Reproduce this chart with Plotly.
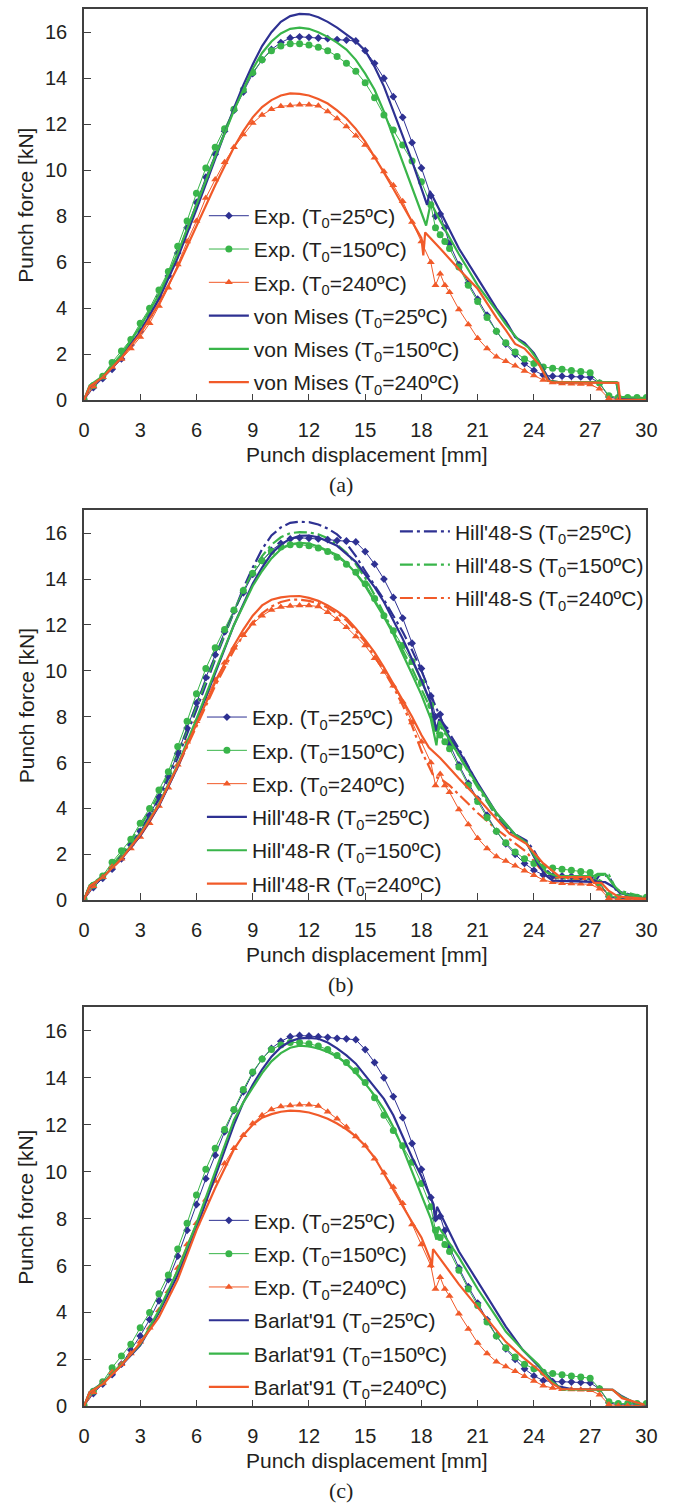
import plotly.graph_objects as go

# ---------------- data ----------------
X_TICKS = [0, 3, 6, 9, 12, 15, 18, 21, 24, 27, 30]
Y_TICKS = [0, 2, 4, 6, 8, 10, 12, 14, 16]

EXP_X = [0, 0.5, 1, 1.5, 2, 2.5, 3, 3.5, 4, 4.5, 5, 5.5, 6, 6.5, 7, 7.5, 8, 8.5, 9, 9.5,
         10, 10.5, 11, 11.5, 12, 12.5, 13, 13.5, 14, 14.5, 15, 15.5, 16, 16.5, 17, 17.5,
         18, 18.5, 18.75, 19, 19.25, 19.5, 20, 20.5, 21, 21.5, 22, 22.5, 23, 23.5, 24,
         24.5, 25, 25.5, 26, 26.5, 27, 27.5, 28, 28.5, 29, 29.5, 30]
EXP_25 = [0.0, 0.55, 0.95, 1.35, 1.8, 2.4, 3.0, 3.7, 4.5, 5.4, 6.4, 7.5, 8.6, 9.7, 10.7, 11.7,
          12.6, 13.4, 14.2, 14.8, 15.25, 15.55, 15.75, 15.8, 15.78, 15.75, 15.72, 15.68, 15.66,
          15.62, 15.2, 14.65, 14.0, 13.2, 12.3, 11.2, 10.1, 8.9, 8.0, 8.1, 7.5, 6.8, 5.9, 5.1,
          4.4, 3.7, 3.0, 2.45, 2.0, 1.6, 1.3, 1.1, 1.05, 1.05, 1.04, 1.02, 1.0, 0.75, 0.15,
          0.07, 0.06, 0.06, 0.06]
EXP_150 = [0.05, 0.65, 1.05, 1.65, 2.15, 2.65, 3.35, 4.0, 4.8, 5.6, 6.7, 7.8, 9.0, 10.1, 11.0,
           11.8, 12.65, 13.5, 14.25, 14.8, 15.2, 15.4, 15.5, 15.5, 15.45, 15.35, 15.2, 14.95,
           14.65, 14.3, 13.8, 13.15, 12.4, 11.75, 11.1, 10.4, 9.5, 8.5, 7.5, 7.2, 6.9, 6.6, 5.8,
           5.0, 4.3, 3.6, 3.0, 2.5, 2.1, 1.8, 1.6, 1.45, 1.4, 1.35, 1.3, 1.25, 1.2, 0.75, 0.2,
           0.12, 0.12, 0.12, 0.12]
EXP_240 = [0.0, 0.6, 1.0, 1.45, 1.8, 2.25, 2.75, 3.35, 4.1, 4.9, 5.9, 6.9, 7.8, 8.8, 9.6, 10.35,
           11.0, 11.55, 12.05, 12.4, 12.65, 12.78, 12.82, 12.85, 12.85, 12.8, 12.55, 12.25, 11.9,
           11.5, 11.1, 10.55, 9.95, 9.35, 8.65, 7.75, 6.9, 6.0, 5.0, 5.5, 5.0, 4.7, 3.95, 3.3,
           2.7, 2.25, 1.9, 1.7, 1.5, 1.28, 1.08, 0.88, 0.78, 0.73, 0.72, 0.71, 0.69, 0.5, 0.08,
           0.03, 0.03, 0.03, 0.03]

# (a) von Mises
VM25_X = [0, 0.3, 1, 2, 3, 4, 5, 6, 7, 8, 8.5, 9, 9.5, 10, 10.5, 11, 11.5, 12, 12.5, 13, 13.5,
          14, 14.5, 15, 15.5, 16, 16.5, 17, 17.5, 18, 18.3, 18.45, 19, 20, 21, 22, 22.5, 23,
          23.5, 24, 24.5, 24.85, 25.3, 28.4, 28.55, 30]
VM25_Y = [0, 0.6, 1.0, 1.9, 3.0, 4.4, 6.2, 8.3, 10.5, 12.7, 13.7, 14.6, 15.4, 16.0, 16.45, 16.7,
          16.8, 16.78, 16.65, 16.45, 16.2, 15.9, 15.6, 15.2, 14.5, 13.65, 12.6, 11.5, 10.4, 9.2,
          8.5, 9.1, 8.2, 6.6, 5.3, 4.0, 3.45, 2.75, 2.5, 2.05, 1.35, 0.85, 0.79, 0.79, 0.12, 0.05]
VM150_X = [0, 0.3, 1, 2, 3, 4, 5, 6, 7, 8, 8.5, 9, 9.5, 10, 10.5, 11, 11.5, 12, 12.5, 13, 13.5,
           14, 14.5, 15, 15.5, 16, 16.5, 17, 17.5, 18, 18.25, 18.5, 19, 20, 21, 22, 22.5, 23.2,
           23.7, 24.25, 24.75, 25.3, 28.4, 28.55, 30]
VM150_Y = [0, 0.65, 1.05, 2.0, 3.2, 4.6, 6.4, 8.5, 10.6, 12.6, 13.5, 14.4, 15.1, 15.6, 15.95,
           16.15, 16.2, 16.15, 16.0, 15.8, 15.55, 15.25, 14.8, 14.2, 13.5, 12.55, 11.45, 10.35,
           9.25, 8.15, 7.6, 8.6, 7.8, 6.35, 5.0, 3.9, 3.3, 2.6, 2.3, 1.7, 0.85, 0.79, 0.79, 0.15, 0.1]
VM240_X = [0, 0.3, 1, 2, 3, 4, 5, 6, 7, 8, 8.5, 9, 9.5, 10, 10.5, 11, 11.5, 12, 12.5, 13, 13.5,
           14, 14.5, 15, 15.5, 16, 16.5, 17, 17.5, 18, 18.1, 18.2, 19, 20, 21, 22, 22.5, 23, 23.5,
           24.25, 24.75, 25, 28.5, 28.6, 30]
VM240_Y = [0, 0.6, 1.0, 1.85, 2.9, 4.2, 5.8, 7.6, 9.35, 11.0, 11.7, 12.3, 12.75, 13.05, 13.25,
           13.34, 13.32, 13.25, 13.1, 12.9, 12.6, 12.25, 11.8, 11.25, 10.6, 9.9, 9.2, 8.5, 7.8,
           7.05, 6.3, 7.3, 6.6, 5.7, 4.85, 3.6, 3.05, 2.45, 2.25, 1.58, 0.86, 0.78, 0.76, 0.02, 0.02]

# (b) Hill'48-S
HS25_X = [0, 0.3, 1, 2, 3, 4, 5, 6, 7, 8, 8.5, 9, 9.5, 10, 10.5, 11, 11.5, 12, 12.5, 13, 13.5,
          14, 14.5, 15, 15.5, 16, 16.5, 17, 17.5, 18, 18.4, 18.65, 19.1, 20, 20.9, 21.8, 22.7,
          23.6, 24, 24.5, 24.9, 25.3, 27.3, 27.5, 28.0, 28.4, 30]
HS25_Y = [0, 0.6, 1.0, 1.9, 3.0, 4.4, 6.2, 8.3, 10.5, 12.6, 13.6, 14.5, 15.3, 15.9, 16.25, 16.45,
          16.5, 16.48, 16.38, 16.2, 15.95, 15.55, 15.0, 14.35, 13.75, 13.1, 12.4, 11.7, 10.9,
          10.0, 9.2, 8.65, 7.8, 6.6, 5.2, 3.9, 3.0, 2.6, 2.16, 1.44, 1.15, 0.85, 0.85, 1.1, 1.05,
          0.4, 0.05]
HS150_X = [0, 0.3, 1, 2, 3, 4, 5, 6, 7, 8, 8.5, 9, 9.5, 10, 10.5, 11, 11.5, 12, 12.5, 13, 13.5,
           14, 14.5, 15, 15.5, 16, 16.5, 17, 17.5, 18, 18.4, 18.8, 19, 20, 21, 22, 23, 23.6,
           24.2, 24.8, 25.3, 27.2, 27.4, 28.0, 28.4, 30]
HS150_Y = [0, 0.65, 1.05, 2.0, 3.2, 4.6, 6.4, 8.5, 10.6, 12.6, 13.5, 14.35, 15.0, 15.5, 15.82,
           16.0, 16.05, 16.03, 15.95, 15.78, 15.5, 15.15, 14.65, 14.05, 13.3, 12.5, 11.7, 10.9,
           10.1, 9.2, 8.5, 7.2, 7.6, 6.3, 4.9, 3.7, 2.85, 2.5, 1.65, 1.15, 0.95, 0.9, 1.1, 1.1,
           0.45, 0.1]
HS240_X = [0, 0.3, 1, 2, 3, 4, 5, 6, 7, 8, 8.5, 9, 9.5, 10, 10.5, 11, 11.5, 12, 12.5, 13, 13.5,
           14, 14.5, 15, 15.5, 16, 16.5, 17, 17.5, 18, 18.3, 18.65, 19, 19.5, 20, 21, 22, 23,
           23.6, 24.3, 25, 27.0, 27.5, 28, 28.5, 30]
HS240_Y = [0, 0.6, 1.0, 1.8, 2.85, 4.15, 5.8, 7.6, 9.35, 10.9, 11.55, 12.1, 12.5, 12.8, 13.0,
           13.1, 13.1, 13.05, 12.95, 12.75, 12.5, 12.2, 11.75, 11.25, 10.65, 10.0, 9.3, 8.5, 7.6,
           6.5, 6.0, 5.4, 5.3, 5.0, 4.6, 3.8, 3.1, 2.5, 2.1, 1.4, 1.0, 0.9, 0.55, 0.3, 0.15, 0.05]

# (b) Hill'48-R
HR25_X = [0, 0.3, 1, 2, 3, 4, 5, 6, 7, 8, 8.5, 9, 9.5, 10, 10.5, 11, 11.5, 12, 12.5, 13, 13.5,
          14, 14.5, 15, 15.5, 16, 16.5, 17, 17.5, 18, 18.5, 18.8, 18.95, 19.5, 20, 21, 22, 23,
          23.6, 24.2, 24.6, 25, 27.5, 27.8, 28.3, 28.6, 30]
HR25_Y = [0, 0.6, 1.0, 1.8, 2.8, 4.1, 5.8, 7.8, 9.9, 12.0, 12.9, 13.8, 14.5, 15.1, 15.5, 15.75,
          15.88, 15.9, 15.82, 15.65, 15.45, 15.1, 14.75, 14.2, 13.65, 13.0, 12.2, 11.4, 10.5,
          9.6, 8.6, 7.4, 7.9, 7.1, 6.5, 5.1, 3.8, 2.85, 2.5, 1.6, 1.1, 0.85, 0.78, 0.78, 0.55,
          0.3, 0.05]
HR150_X = [0, 0.3, 1, 2, 3, 4, 5, 6, 7, 8, 8.5, 9, 9.5, 10, 10.5, 11, 11.5, 12, 12.5, 13, 13.5,
           14, 14.5, 15, 15.5, 16, 16.5, 17, 17.5, 18, 18.5, 18.8, 18.95, 19.5, 20, 21, 22, 23,
           23.6, 24.2, 24.7, 25.2, 27.2, 27.4, 27.8, 28.3, 28.7, 30]
HR150_Y = [0, 0.65, 1.0, 1.85, 2.9, 4.2, 5.9, 7.9, 10.0, 12.0, 12.85, 13.7, 14.35, 14.9, 15.3,
           15.52, 15.58, 15.55, 15.42, 15.25, 15.05, 14.7, 14.25, 13.7, 13.05, 12.35, 11.6,
           10.75, 9.85, 8.95, 7.9, 6.75, 7.8, 7.0, 6.3, 5.0, 3.8, 2.85, 2.5, 1.7, 1.2, 1.05,
           1.05, 1.15, 1.15, 0.6, 0.3, 0.05]
HR240_X = [0, 0.3, 1, 2, 3, 4, 5, 6, 7, 8, 8.5, 9, 9.5, 10, 10.5, 11, 11.5, 12, 12.5, 13, 13.5,
           14, 14.5, 15, 15.5, 16, 16.5, 17, 17.5, 18, 18.4, 19, 20, 21, 22, 22.7, 23.6, 24.5,
           25.4, 27.0, 27.2, 27.6, 28.0, 28.5, 30]
HR240_Y = [0, 0.6, 1.0, 1.8, 2.85, 4.15, 5.85, 7.7, 9.5, 11.1, 11.8, 12.4, 12.85, 13.1, 13.2,
           13.25, 13.26, 13.18, 13.05, 12.85, 12.6, 12.3, 11.85, 11.35, 10.8, 10.15, 9.45, 8.75,
           8.0, 7.2, 6.65, 6.2, 5.3, 4.45, 3.55, 2.9, 2.45, 1.6, 1.0, 1.0, 0.75, 0.75, 0.4,
           0.15, 0.05]

# (c) Barlat'91
B25_X = [0, 0.3, 1, 2, 3, 4, 5, 6, 7, 8, 8.5, 9, 9.5, 10, 10.5, 11, 11.5, 12, 12.5, 13, 13.5,
         14, 14.5, 15, 15.5, 16, 16.5, 17, 17.5, 18, 18.5, 18.65, 18.72, 18.83, 20, 21, 22,
         22.5, 23.4, 24.25, 24.95, 25.3, 26, 28.2, 28.7, 29.4, 30]
B25_Y = [0, 0.6, 1.0, 1.75, 2.6, 4.0, 5.6, 7.6, 9.8, 12.0, 12.95, 13.7, 14.35, 14.9, 15.3,
         15.55, 15.68, 15.7, 15.66, 15.5, 15.25, 14.95, 14.6, 14.1, 13.6, 13.1, 12.4, 11.5,
         10.6, 9.8, 8.9, 8.6, 7.9, 8.5, 6.6, 5.3, 4.0, 3.4, 2.41, 1.7, 1.13, 0.85, 0.74, 0.71,
         0.43, 0.14, 0.07]
B150_X = [0, 0.3, 1, 2, 3, 4, 5, 6, 7, 8, 8.5, 9, 9.5, 10, 10.5, 11, 11.5, 12, 12.5, 13, 13.5,
          14, 14.5, 15, 15.5, 16, 16.5, 17, 17.5, 18, 18.5, 18.8, 18.9, 20, 21, 22, 22.5, 23.4,
          24.25, 24.9, 25.5, 28.2, 28.7, 29.5, 30]
B150_Y = [0, 0.6, 1.0, 1.8, 2.65, 4.1, 5.8, 7.8, 10.0, 12.2, 12.95, 13.55, 14.2, 14.7, 15.05,
          15.28, 15.37, 15.33, 15.25, 15.1, 14.9, 14.6, 14.2, 13.75, 13.25, 12.65, 11.9, 11.0,
          10.0, 9.0, 8.0, 7.1, 7.66, 6.35, 5.0, 3.8, 3.19, 2.41, 1.77, 1.1, 0.72, 0.7, 0.4,
          0.12, 0.1]
B240_X = [0, 0.3, 1, 2, 3, 4, 5, 6, 7, 8, 8.5, 9, 9.5, 10, 10.5, 11, 11.5, 12, 12.5, 13, 13.5,
          14, 14.5, 15, 15.5, 16, 16.5, 17, 17.5, 18, 18.5, 18.55, 18.62, 20, 21, 22, 22.5,
          23.4, 24.25, 24.95, 25.45, 28.2, 28.7, 29.9]
B240_Y = [0, 0.6, 0.95, 1.75, 2.7, 3.8, 5.4, 7.5, 9.3, 10.95, 11.55, 12.0, 12.3, 12.45, 12.55,
          12.6, 12.58, 12.52, 12.4, 12.25, 12.05, 11.8, 11.5, 11.1, 10.6, 9.9, 9.2, 8.5, 7.85,
          7.2, 6.2, 5.9, 6.7, 5.2, 4.2, 3.25, 2.75, 2.1, 1.55, 0.99, 0.74, 0.71, 0.35, 0.07]

TEMPS = ["25", "150", "240"]

# ---------------- style ----------------
BLUE = "#2E3192"
GREEN = "#39B54A"
RED = "#F15A29"
COLS = [BLUE, GREEN, RED]
SYMS = ["diamond", "circle", "triangle-up"]
MSIZE = [6, 7, 7]
FONT = "Liberation Sans, Arial, sans-serif"
SERIF = "Liberation Serif, Times New Roman, serif"
TXT = "#231F20"
AX = "#404040"
W, H = 673, 1512

def lab(model, t):
    return f"{model} (T<sub>0</sub>={t}ºC)"

fig = go.Figure()

def add_exp(xa, ya, legend, tag):
    for t, y, c, s, ms in zip(TEMPS, [EXP_25, EXP_150, EXP_240], COLS, SYMS, MSIZE):
        fig.add_trace(go.Scatter(
            x=EXP_X, y=y, mode="lines+markers", name=lab("Exp.", t),
            line=dict(color=c, width=1), marker=dict(symbol=s, size=ms, color=c),
            xaxis=xa, yaxis=ya, legend=legend, legendgroup=f"{tag}exp{t}"))

def add_sim(xa, ya, legend, tag, model, xs, ys, dash="solid"):
    for t, x, y, c in zip(TEMPS, xs, ys, COLS):
        fig.add_trace(go.Scatter(
            x=x, y=y, mode="lines", name=lab(model, t),
            line=dict(color=c, width=2.2, dash=dash),
            xaxis=xa, yaxis=ya, legend=legend, legendgroup=f"{tag}{model}{t}"))

# panel (a)
add_exp("x", "y", "legend", "a")
add_sim("x", "y", "legend", "a", "von Mises", [VM25_X, VM150_X, VM240_X], [VM25_Y, VM150_Y, VM240_Y])
# panel (b)
add_sim("x2", "y2", "legend2", "b", "Hill'48-S", [HS25_X, HS150_X, HS240_X], [HS25_Y, HS150_Y, HS240_Y],
        dash="13px,4px,3px,4px")
add_exp("x2", "y2", "legend3", "b")
add_sim("x2", "y2", "legend3", "b", "Hill'48-R", [HR25_X, HR150_X, HR240_X], [HR25_Y, HR150_Y, HR240_Y])
# panel (c)
add_exp("x3", "y3", "legend4", "c")
add_sim("x3", "y3", "legend4", "c", "Barlat'91", [B25_X, B150_X, B240_X], [B25_Y, B150_Y, B240_Y])

def py(px):
    return 1 - px / H

X_DOM = [80 / W, 657 / W]
PANELS = [(403.3, 9.3), (906.7, 514.0), (1416.7, 1014.7)]

axis_common = dict(showline=True, linecolor=AX, linewidth=1.5, mirror=True, ticks="inside",
                   ticklen=7, tickwidth=1.2, tickcolor=AX, showgrid=False, zeroline=False,
                   tickfont=dict(family=FONT, size=20, color=TXT), ticklabelstandoff=11)

layout = dict(width=W, height=H, margin=dict(l=0, r=0, t=0, b=0),
              paper_bgcolor="white", plot_bgcolor="white", showlegend=True)
annotations = []
for i, (bot, top) in enumerate(PANELS):
    sx = "" if i == 0 else str(i + 1)
    layout["xaxis" + sx] = dict(domain=X_DOM, range=[0, 30], tickvals=X_TICKS,
                                anchor="y" + sx, **axis_common)
    layout["yaxis" + sx] = dict(domain=[py(bot), py(top)], range=[0, 17], tickvals=Y_TICKS,
                                anchor="x" + sx, **axis_common)
    annotations.append(dict(text="Punch displacement [mm]", xref="paper", yref="paper",
                            x=370 / W, y=py(bot + 55), xanchor="center", yanchor="middle",
                            showarrow=False, font=dict(family=FONT, size=21, color=TXT)))
    annotations.append(dict(text="Punch force [kN]", xref="paper", yref="paper",
                            x=20.5 / W, y=py((bot + top) / 2), xanchor="center", yanchor="middle",
                            textangle=-90, showarrow=False, font=dict(family=FONT, size=21, color=TXT)))
    annotations.append(dict(text="(" + "abc"[i] + ")", xref="paper", yref="paper",
                            x=344 / W, y=py(bot + 85), xanchor="center", yanchor="middle",
                            showarrow=False, font=dict(family=SERIF, size=22, color=TXT)))
layout["annotations"] = annotations

leg_common = dict(font=dict(family=FONT, size=21, color=TXT), bgcolor="rgba(0,0,0,0)",
                  xanchor="left", yanchor="top", tracegroupgap=3, itemwidth=40)
layout["legend"] = dict(x=203 / W, y=py(197), **leg_common)
layout["legend2"] = dict(x=399 / W, y=py(515), **{**leg_common, "itemwidth": 50})
layout["legend3"] = dict(x=201 / W, y=py(702), **leg_common)
layout["legend4"] = dict(x=203 / W, y=py(1209), **leg_common)

fig.update_layout(**layout)
fig.write_html("out.html")
